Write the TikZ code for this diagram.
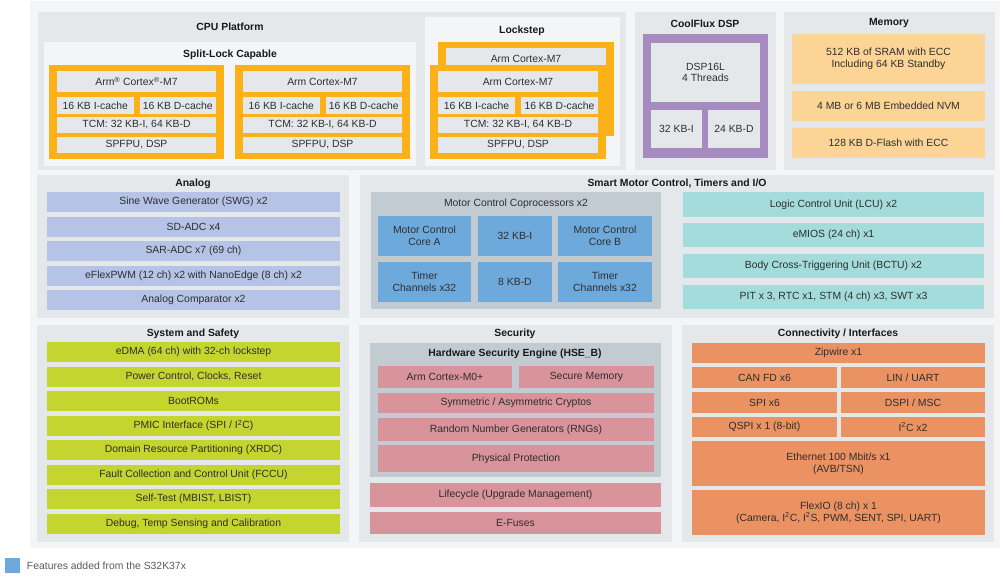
\documentclass[tikz,border=0pt]{standalone}
\usepackage{fontspec}
\setmainfont{Liberation Sans}
\definecolor{bgc}{HTML}{F4F5F7}
\definecolor{pnl}{HTML}{E4E8EB}
\definecolor{lgt}{HTML}{F4F5F7}
\definecolor{inbox}{HTML}{E5E8EB}
\definecolor{org}{HTML}{FBB117}
\definecolor{pur}{HTML}{A58BC0}
\definecolor{mem}{HTML}{FCD596}
\definecolor{ana}{HTML}{B4C3E6}
\definecolor{blu}{HTML}{6EA9DC}
\definecolor{tea}{HTML}{A3DCDA}
\definecolor{cop}{HTML}{C3CBD2}
\definecolor{grn}{HTML}{C4D52F}
\definecolor{pnk}{HTML}{D9939A}
\definecolor{cor}{HTML}{EB9262}
\definecolor{txt}{HTML}{2E2E2E}
\tikzset{
 every node/.style={font=\fontsize{10.4}{11.8}\selectfont, text=txt, inner sep=0pt, outer sep=0pt, align=center},
 rbox/.style={anchor=north west, draw=none},
 ttl/.style={font=\fontsize{10.4}{11.8}\selectfont\bfseries, text=black!90},
}
\newcommand\blk[7]{\node[rbox,fill=#2,minimum width={(#5-(#3))*1pt},minimum height={(#6-(#4))*1pt}] (#1) at (#3,#4) {#7};}
\begin{document}
\begin{tikzpicture}[x=1pt,y=-1pt]
\useasboundingbox (0,0) rectangle (1003,581);
\blk{bg}{bgc}{30}{1}{1000}{548}{}
% ---------- CPU platform
\blk{cpu}{pnl}{38}{12}{626}{170}{}
\node[ttl] (tcpu) at (230,27) {CPU Platform};
\blk{spl}{lgt}{44}{42}{416}{166}{}
\node[ttl] (tspl) at (230,55) {Split-Lock Capable};
% core A
\blk{oa}{org}{49}{65}{224}{159}{}
\blk{a1}{inbox}{57}{71}{216}{92}{Arm\textsuperscript{®} Cortex\textsuperscript{®}-M7}
\blk{a2}{inbox}{57}{97}{133.5}{114}{16 KB I-cache}
\blk{a3}{inbox}{139.5}{97}{216}{114}{16 KB D-cache}
\blk{a4}{inbox}{57}{117}{216}{133}{TCM: 32 KB-I, 64 KB-D}
\blk{a5}{inbox}{57}{137}{216}{153}{SPFPU, DSP}
% core B
\blk{ob}{org}{235}{65}{410}{159}{}
\blk{b1}{inbox}{243}{71}{402}{92}{Arm Cortex-M7}
\blk{b2}{inbox}{243}{97}{319.5}{114}{16 KB I-cache}
\blk{b3}{inbox}{325.5}{97}{402}{114}{16 KB D-cache}
\blk{b4}{inbox}{243}{117}{402}{133}{TCM: 32 KB-I, 64 KB-D}
\blk{b5}{inbox}{243}{137}{402}{153}{SPFPU, DSP}
% lockstep
\blk{lck}{lgt}{425}{17}{620}{166}{}
\node[ttl] (tlck) at (522,31) {Lockstep};
\blk{ok}{org}{438}{42}{614}{136}{}
\blk{k0}{inbox}{446}{48}{606}{69}{Arm Cortex-M7}
\blk{oc}{org}{430}{65}{606}{159}{}
\blk{c1}{inbox}{438}{71}{598}{92}{Arm Cortex-M7}
\blk{c2}{inbox}{438}{97}{515}{114}{16 KB I-cache}
\blk{c3}{inbox}{521}{97}{598}{114}{16 KB D-cache}
\blk{c4}{inbox}{438}{117}{598}{133}{TCM: 32 KB-I, 64 KB-D}
\blk{c5}{inbox}{438}{137}{598}{153}{SPFPU, DSP}
% CoolFlux
\blk{cf}{pnl}{635}{12}{776}{170}{}
\node[ttl] (tcf) at (705,24) {CoolFlux DSP};
\blk{pu}{pur}{643}{34}{768}{158}{}
\blk{d1}{inbox}{651}{43}{760}{102}{DSP16L\\4 Threads}
\blk{d2}{inbox}{651}{110}{702}{148}{32 KB-I}
\blk{d3}{inbox}{708}{110}{760}{148}{24 KB-D}
% Memory
\blk{mm}{pnl}{784}{12}{995}{170}{}
\node[ttl] (tmm) at (889,23) {Memory};
\blk{m1}{mem}{792}{34}{985}{84}{512 KB of SRAM with ECC\\Including 64 KB Standby}
\blk{m2}{mem}{792}{91}{985}{121}{4 MB or 6 MB Embedded NVM}
\blk{m3}{mem}{792}{128}{985}{158}{128 KB D-Flash with ECC}
% ---------- Analog
\blk{an}{pnl}{37}{175}{349}{318}{}
\node[ttl] (tan) at (193,184) {Analog};
\blk{n1}{ana}{47}{192}{340}{212}{Sine Wave Generator (SWG) x2}
\blk{n2}{ana}{47}{216.5}{340}{236.5}{SD-ADC x4}
\blk{n3}{ana}{47}{241}{340}{261}{SAR-ADC x7 (69 ch)}
\blk{n4}{ana}{47}{265.5}{340}{285.5}{eFlexPWM (12 ch) x2 with NanoEdge (8 ch) x2}
\blk{n5}{ana}{47}{290}{340}{310}{Analog Comparator x2}
% ---------- Smart motor
\blk{sm}{pnl}{360}{175}{994}{318}{}
\node[ttl] (tsm) at (677,184) {Smart Motor Control, Timers and I/O};
\blk{cp}{cop}{371}{192}{661}{309}{}
\node (tcp) at (516,204) {Motor Control Coprocessors x2};
\blk{p1}{blu}{378}{216}{471}{256}{Motor Control\\Core A}
\blk{p2}{blu}{478}{216}{552}{256}{32 KB-I}
\blk{p3}{blu}{558}{216}{652}{256}{Motor Control\\Core B}
\blk{p4}{blu}{378}{262}{471}{302}{Timer\\Channels x32}
\blk{p5}{blu}{478}{262}{552}{302}{8 KB-D}
\blk{p6}{blu}{558}{262}{652}{302}{Timer\\Channels x32}
\blk{t1}{tea}{683}{192}{984}{217}{Logic Control Unit (LCU) x2}
\blk{t2}{tea}{683}{223}{984}{247}{eMIOS (24 ch) x1}
\blk{t3}{tea}{683}{254}{984}{278}{Body Cross-Triggering Unit (BCTU) x2}
\blk{t4}{tea}{683}{285}{984}{309}{PIT x 3, RTC x1, STM (4 ch) x3, SWT x3}
% ---------- System and Safety
\blk{ss}{pnl}{37}{325}{349}{542}{}
\node[ttl] (tss) at (193,334) {System and Safety};
\blk{s1}{grn}{47}{342}{340}{362}{eDMA (64 ch) with 32-ch lockstep}
\blk{s2}{grn}{47}{366.5}{340}{386.5}{Power Control, Clocks, Reset}
\blk{s3}{grn}{47}{391}{340}{411}{BootROMs}
\blk{s4}{grn}{47}{415.5}{340}{435.5}{PMIC Interface (SPI / I\textsuperscript{2}C)}
\blk{s5}{grn}{47}{440}{340}{460}{Domain Resource Partitioning (XRDC)}
\blk{s6}{grn}{47}{464.5}{340}{484.5}{Fault Collection and Control Unit (FCCU)}
\blk{s7}{grn}{47}{489}{340}{509}{Self-Test (MBIST, LBIST)}
\blk{s8}{grn}{47}{513.5}{340}{533.5}{Debug, Temp Sensing and Calibration}
% ---------- Security
\blk{se}{pnl}{359}{325}{672}{542}{}
\node[ttl] (tse) at (515,334) {Security};
\blk{hs}{cop}{370}{343}{661}{477}{}
\node[ttl] (ths) at (515,354) {Hardware Security Engine (HSE\_B)};
\blk{h1}{pnk}{378}{366}{512}{388}{Arm Cortex-M0+}
\blk{h2}{pnk}{519}{366}{654}{388}{Secure Memory}
\blk{h3}{pnk}{378}{393}{654}{413}{Symmetric / Asymmetric Cryptos}
\blk{h4}{pnk}{378}{418}{654}{441}{Random Number Generators (RNGs)}
\blk{h5}{pnk}{378}{445}{654}{472}{Physical Protection}
\blk{h6}{pnk}{370}{483}{661}{507}{Lifecycle (Upgrade Management)}
\blk{h7}{pnk}{370}{512}{661}{534}{E-Fuses}
% ---------- Connectivity
\blk{co}{pnl}{682}{325}{994}{542}{}
\node[ttl] (tco) at (838,334) {Connectivity / Interfaces};
\blk{i1}{cor}{692}{343}{985}{363}{Zipwire x1}
\blk{i2}{cor}{692}{367}{837}{388}{CAN FD x6}
\blk{i3}{cor}{841}{367}{985}{388}{LIN / UART}
\blk{i4}{cor}{692}{392}{837}{413}{SPI x6}
\blk{i5}{cor}{841}{392}{985}{413}{DSPI / MSC}
\blk{i6}{cor}{692}{417}{837}{437}{QSPI x 1 (8-bit)}
\blk{i7}{cor}{841}{417}{985}{437}{I\textsuperscript{2}C x2}
\blk{i8}{cor}{692}{441}{985}{486}{Ethernet 100 Mbit/s x1\\(AVB/TSN)}
\blk{i9}{cor}{692}{490}{985}{535}{FlexIO (8 ch) x 1\\(Camera, I\textsuperscript{2}C, I\textsuperscript{2}S, PWM, SENT, SPI, UART)}
% ---------- legend
\blk{lg}{blu}{5}{558}{20}{573}{}
\node[anchor=west, text=black!65] (tlg) at (27,566) {Features added from the S32K37x};
\end{tikzpicture}
\end{document}
